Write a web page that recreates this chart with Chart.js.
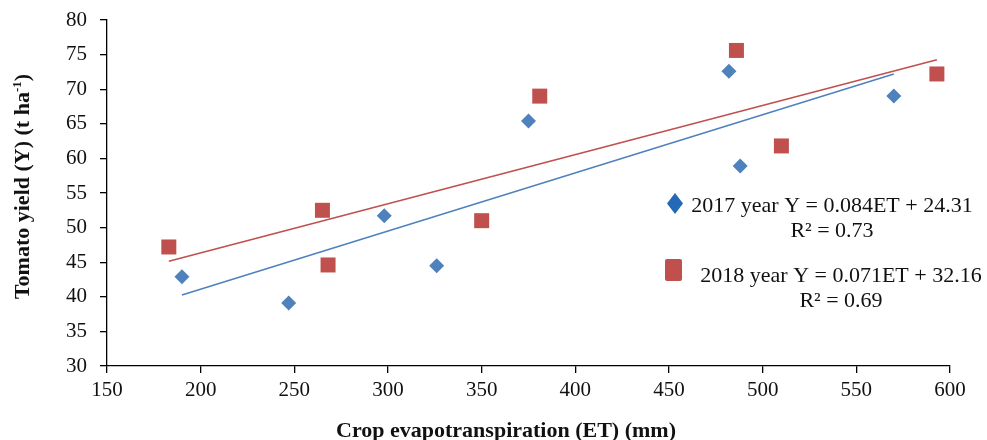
<!DOCTYPE html>
<html>
<head>
<meta charset="utf-8">
<script src="https://cdn.jsdelivr.net/npm/chart.js@4.4.1/dist/chart.umd.min.js"></script>
<style>
html,body{margin:0;padding:0;background:#fff;}
#wrap{width:987px;height:440px;position:relative;}
</style>
</head>
<body>
<div id="wrap"><canvas id="c" width="987" height="440"></canvas></div>
<script>
// Data
const et2017 = [190, 247, 298, 326, 375, 482, 488, 570];
const yield2017 = [42.9, 39.1, 51.7, 44.5, 65.4, 72.6, 58.9, 69.0];
const et2018 = [183, 265, 268, 350, 381, 486, 510, 593];
const yield2018 = [47.2, 52.5, 44.6, 51.0, 69.0, 75.6, 61.8, 72.2];
// Trend line end points (from the fitted equations shown)
const trendX2017 = [190, 570];
const trendY2017 = [40.27, 72.19];
const trendX2018 = [183, 593];
const trendY2018 = [45.15, 74.26];
const legendLines2017 = ["2017 year Y = 0.084ET + 24.31", "R\u00B2 = 0.73"];
const legendLines2018 = ["2018 year Y = 0.071ET + 32.16", "R\u00B2 = 0.69"];
const xTitle = "Crop evapotranspiration (ET) (mm)";
const yTitleMain = "Tomato yield (Y) (t ha";
const yTitleSup = "-1";
const yTitleEnd = ")";

const toPts = (xs, ys) => xs.map((x, i) => ({x: x, y: ys[i]}));

const BLUE = '#4f81bd', RED = '#c0504d';
const FONT = "'Liberation Serif', 'Times New Roman', serif";

const textPlugin = {
  id: 'eqLegend',
  afterDraw(chart) {
    const ctx = chart.ctx;
    ctx.save();
    // 2017 marker (diamond)
    ctx.fillStyle = '#2369b5';
    ctx.beginPath();
    ctx.moveTo(675, 193); ctx.lineTo(683, 203.5); ctx.lineTo(675, 214); ctx.lineTo(667, 203.5);
    ctx.closePath(); ctx.fill();
    // 2018 marker (rounded square)
    ctx.fillStyle = RED;
    ctx.beginPath();
    if (ctx.roundRect) ctx.roundRect(665, 259, 17, 22, 2); else ctx.rect(665, 259, 17, 22);
    ctx.fill();
    ctx.fillStyle = '#111';
    ctx.font = "22px " + FONT;
    ctx.textAlign = 'center';
    ctx.textBaseline = 'alphabetic';
    ctx.fillText(legendLines2017[0], 832, 212);
    ctx.fillText(legendLines2017[1], 832, 237);
    ctx.fillText(legendLines2018[0], 841, 282);
    ctx.fillText(legendLines2018[1], 841, 307);

    // X axis title
    ctx.font = "bold 22px " + FONT;
    ctx.textAlign = 'center';
    ctx.fillText(xTitle, 506, 437);

    // Y axis title (rotated, with superscript)
    const mainFont = "bold 22px " + FONT, supFont = "bold 13px " + FONT;
    ctx.font = mainFont; const w1 = ctx.measureText(yTitleMain).width;
    const w3 = ctx.measureText(yTitleEnd).width;
    ctx.font = supFont; const w2 = ctx.measureText(yTitleSup).width;
    const total = w1 + w2 + w3;
    ctx.translate(29, 186.5);
    ctx.rotate(-Math.PI / 2);
    ctx.textAlign = 'left';
    let x0 = -total / 2;
    ctx.font = mainFont; ctx.fillText(yTitleMain, x0, 0);
    ctx.font = supFont; ctx.fillText(yTitleSup, x0 + w1, -8);
    ctx.font = mainFont; ctx.fillText(yTitleEnd, x0 + w1 + w2, 0);
    ctx.restore();
  }
};

new Chart(document.getElementById('c'), {
  type: 'scatter',
  data: {
    datasets: [
      { label: '2017', data: toPts(et2017, yield2017), pointStyle: 'rectRot', pointRadius: 7.5, pointHoverRadius: 7.5,
        backgroundColor: BLUE, borderColor: BLUE, borderWidth: 0, order: 1 },
      { label: '2018', data: toPts(et2018, yield2018), pointStyle: 'rect', pointRadius: 10.6, pointHoverRadius: 10.6,
        backgroundColor: RED, borderColor: RED, borderWidth: 0, order: 1 },
      { label: 'trend2017', data: toPts(trendX2017, trendY2017), showLine: true, pointRadius: 0,
        borderColor: BLUE, borderWidth: 1.6, fill: false, order: 2 },
      { label: 'trend2018', data: toPts(trendX2018, trendY2018), showLine: true, pointRadius: 0,
        borderColor: RED, borderWidth: 1.6, fill: false, order: 2 }
    ]
  },
  options: {
    responsive: false,
    animation: false,
    events: [],
    layout: { padding: { left: 0, right: 37, top: 20, bottom: 0 } },
    plugins: { legend: { display: false }, tooltip: { enabled: false } },
    scales: {
      x: {
        type: 'linear', min: 150, max: 600,
        ticks: { stepSize: 50, color: '#111', font: { family: FONT, size: 21 }, padding: 5, maxRotation: 0 },
        grid: { drawOnChartArea: false, drawTicks: true, tickLength: 7, color: '#000', lineWidth: 1.3 },
        border: { display: true, color: '#000', width: 1.3 },
        afterFit(scale) { scale.height = 74; scale.paddingLeft = 0; scale.paddingRight = 0; }
      },
      y: {
        type: 'linear', min: 30, max: 80,
        ticks: { stepSize: 5, color: '#111', font: { family: FONT, size: 21 }, padding: 13 },
        grid: { drawOnChartArea: false, drawTicks: true, tickLength: 7, color: '#000', lineWidth: 1.3 },
        border: { display: true, color: '#000', width: 1.3 },
        afterFit(scale) { scale.width = 107; scale.paddingTop = 0; scale.paddingBottom = 0; }
      }
    }
  },
  plugins: [textPlugin]
});
</script>
</body>
</html>
